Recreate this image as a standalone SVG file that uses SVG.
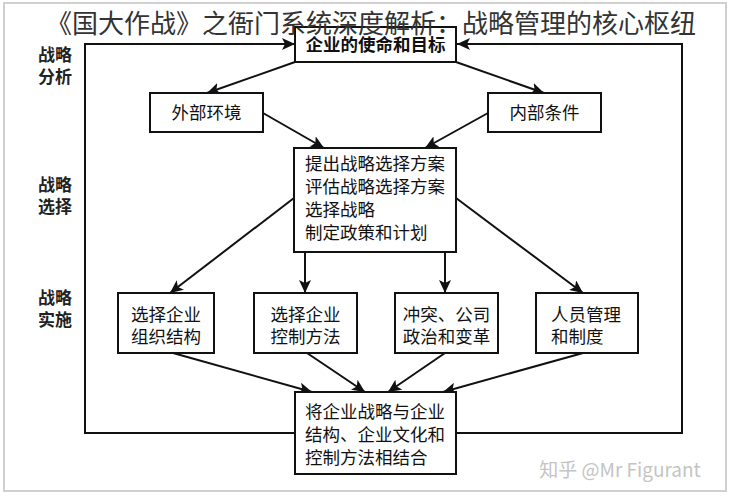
<svg xmlns="http://www.w3.org/2000/svg" width="731" height="500" viewBox="0 0 731 500">
<style>
.box{fill:#fff;stroke:#111;stroke-width:2}
.t{font-family:"Noto Sans CJK SC","Liberation Sans",sans-serif;font-size:17.5px;fill:#111}
.lbl{font-family:"Noto Sans CJK SC","Liberation Sans",sans-serif;font-size:17px;font-weight:bold;fill:#222}
.ln{fill:none;stroke:#111;stroke-width:2}
</style>
<defs>
<marker id="ah" markerUnits="userSpaceOnUse" markerWidth="14" markerHeight="12" refX="13" refY="6" orient="auto">
<path d="M0,0 L13,6 L0,12 L3,6 Z" fill="#111"/>
</marker>
</defs>
<rect x="0" y="0" width="731" height="500" fill="#fff"/>
<rect x="4" y="3" width="722" height="488" fill="#fff" stroke="#d0d0d0" stroke-width="2"/>

<g id="labels">
<text class="lbl" x="55" y="61" text-anchor="middle">战略</text>
<text class="lbl" x="55" y="83" text-anchor="middle">分析</text>
<text class="lbl" x="55" y="191" text-anchor="middle">战略</text>
<text class="lbl" x="55" y="213" text-anchor="middle">选择</text>
<text class="lbl" x="55" y="304" text-anchor="middle">战略</text>
<text class="lbl" x="55" y="326" text-anchor="middle">实施</text>
</g>

<g id="connectors">
<polyline class="ln" points="295,433 85,433 85,44 295,44" marker-end="url(#ah)"/>
<polyline class="ln" points="456,433 682,433 682,44 457,44" marker-end="url(#ah)"/>
<line class="ln" x1="295" y1="62" x2="207" y2="93" marker-end="url(#ah)"/>
<line class="ln" x1="456" y1="62" x2="544" y2="93" marker-end="url(#ah)"/>
<line class="ln" x1="263" y1="113" x2="324" y2="148" marker-end="url(#ah)"/>
<line class="ln" x1="488" y1="113" x2="425" y2="148" marker-end="url(#ah)"/>
<line class="ln" x1="294" y1="198" x2="170" y2="293" marker-end="url(#ah)"/>
<line class="ln" x1="305" y1="252" x2="305" y2="293" marker-end="url(#ah)"/>
<line class="ln" x1="445" y1="252" x2="445" y2="293" marker-end="url(#ah)"/>
<line class="ln" x1="456" y1="198" x2="583" y2="293" marker-end="url(#ah)"/>
<line class="ln" x1="173" y1="353" x2="312" y2="392" marker-end="url(#ah)"/>
<line class="ln" x1="307" y1="353" x2="365" y2="392" marker-end="url(#ah)"/>
<line class="ln" x1="445" y1="353" x2="388" y2="392" marker-end="url(#ah)"/>
<line class="ln" x1="583" y1="353" x2="443" y2="392" marker-end="url(#ah)"/>
</g>

<g id="mission">
<rect class="box" x="295" y="27" width="161" height="35"/>
<text class="t" x="375.5" y="51" text-anchor="middle" font-weight="bold">企业的使命和目标</text>
</g>
<g id="external">
<rect class="box" x="150" y="93" width="113" height="39"/>
<text class="t" x="206.5" y="119" text-anchor="middle">外部环境</text>
</g>
<g id="internal">
<rect class="box" x="488" y="93" width="113" height="39"/>
<text class="t" x="544.5" y="119" text-anchor="middle">内部条件</text>
</g>
<g id="choice">
<rect class="box" x="294" y="148" width="162" height="104"/>
<text class="t" x="305" y="170">提出战略选择方案</text>
<text class="t" x="305" y="193">评估战略选择方案</text>
<text class="t" x="305" y="216">选择战略</text>
<text class="t" x="305" y="239">制定政策和计划</text>
</g>
<g id="org">
<rect class="box" x="118" y="293" width="96" height="60"/>
<text class="t" x="166" y="321" text-anchor="middle">选择企业</text>
<text class="t" x="166" y="343" text-anchor="middle">组织结构</text>
</g>
<g id="control">
<rect class="box" x="254" y="293" width="103" height="60"/>
<text class="t" x="305.5" y="321" text-anchor="middle">选择企业</text>
<text class="t" x="305.5" y="343" text-anchor="middle">控制方法</text>
</g>
<g id="conflict">
<rect class="box" x="395" y="293" width="103" height="60"/>
<text class="t" x="446.5" y="321" text-anchor="middle">冲突、公司</text>
<text class="t" x="446.5" y="343" text-anchor="middle">政治和变革</text>
</g>
<g id="hr">
<rect class="box" x="536" y="293" width="102" height="60"/>
<text class="t" x="551" y="321">人员管理</text>
<text class="t" x="551" y="343">和制度</text>
</g>
<g id="combine">
<rect class="box" x="295" y="392" width="161" height="82"/>
<text class="t" x="305" y="418">将企业战略与企业</text>
<text class="t" x="305" y="441">结构、企业文化和</text>
<text class="t" x="305" y="464">控制方法相结合</text>
</g>

<text x="371" y="33" text-anchor="middle" font-family="Noto Sans CJK SC, sans-serif" font-size="26" fill="#333">《国大作战》之衙门系统深度解析：战略管理的核心枢纽</text>
<text x="620" y="477" text-anchor="middle" font-family="Noto Sans CJK SC, sans-serif" font-size="19" fill="#c4c4c4">知乎 @Mr Figurant</text>
</svg>
